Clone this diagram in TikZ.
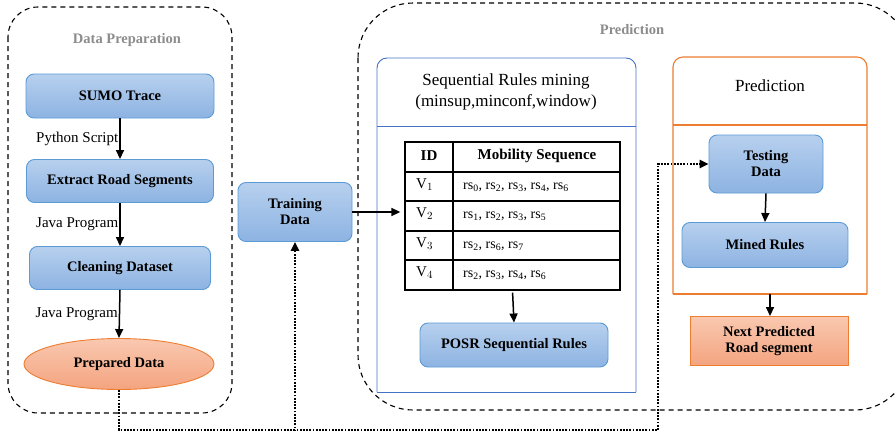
\documentclass[tikz,border=0pt]{standalone}
\usepackage{fontspec}
\setmainfont{Liberation Serif}
\usetikzlibrary{arrows.meta,shapes.geometric}

\definecolor{bluetop}{HTML}{B7D0EE}
\definecolor{bluebot}{HTML}{8DB3E2}
\definecolor{blueline}{HTML}{5B9BD5}
\definecolor{seqblue}{HTML}{4472C4}
\definecolor{orangetop}{HTML}{F9C8B0}
\definecolor{orangebot}{HTML}{F4A47F}
\definecolor{orangeline}{HTML}{ED7D31}
\definecolor{titlegray}{HTML}{8C8C8C}

\begin{document}
\begin{tikzpicture}[x=1pt,y=-1pt,
        bluebox/.style = {draw=blueline, line width=0.9pt,
            rounded corners=8pt,
            top color=bluetop, bottom color=bluebot,
            align=center,
            font=\fontsize{14.5}{16}\selectfont\bfseries},
        orangebox/.style = {draw=orangeline, line width=0.9pt,
            top color=orangetop, bottom color=orangebot,
            align=center,
            font=\fontsize{14.5}{16}\selectfont\bfseries},
        grouptitle/.style = {text=titlegray,
            font=\fontsize{14.5}{16}\selectfont\bfseries},
        steplabel/.style = {left, inner sep=1pt,
            font=\fontsize{15}{17}\selectfont},
        cell/.style = {inner sep=0pt, anchor=west,
            font=\fontsize{14}{16}\selectfont},
        flow/.style = {line width=1.5pt,
            -{Triangle[length=9pt,width=8pt]}},
        dotline/.style = {line width=2.2pt,
            dash pattern=on 1.8pt off 1.4pt,
            -{Triangle[length=9pt,width=8pt]}},
        group/.style = {line width=1.1pt,
            dash pattern=on 5pt off 4pt}]

    \useasboundingbox (0,0) rectangle (895,434);

    % Data preparation group
    \draw[group, rounded corners=30pt] (8,7) rectangle (232,413);
    \node[grouptitle] (prepTitle) at (127,40) {Data Preparation};

    \node[bluebox, minimum width=188pt, minimum height=44pt] (sumo) at (120,96) {SUMO Trace};
    \node[bluebox, minimum width=187pt, minimum height=43pt] (extract) at (120,181) {Extract Road Segments};
    \node[bluebox, minimum width=181pt, minimum height=43pt] (clean) at (120,268) {Cleaning Dataset};
    \node[orangebox, ellipse, minimum width=190pt, minimum height=51pt] (prep) at (119,364) {Prepared Data};

    \draw[flow] (sumo.south) -- (extract.north)
        node[steplabel, midway] (pyLbl) {Python Script};
    \draw[flow] (extract.south) -- (clean.north)
        node[steplabel, midway] (javaLblA) {Java Program};
    \draw[flow] (clean.south) -- (prep.north)
        node[steplabel, midway] (javaLblB) {Java Program};

    % Training data
    \node[bluebox, minimum width=114pt, minimum height=59pt] (train) at (295,212) {Training\\Data};

    % Prediction group
    \draw[group, rounded corners=55pt] (358,3) rectangle (910,410);
    \node[grouptitle] (predTitle) at (632,30) {Prediction};

    % Sequential rules mining box
    \draw[seqblue, line width=0.9pt, rounded corners=10pt]
        (377,392) -- (377,58) -- (636,58) -- (636,392);
    \draw[seqblue, line width=0.9pt] (377,392) -- (636,392);
    \draw[seqblue, line width=0.9pt] (377,126) -- (636,126);
    \node[align=center, font=\fontsize{17}{21}\selectfont] (seqTitle) at (506,92)
        {Sequential Rules mining\\(minsup,minconf,window)};

    % Table
    \node[draw, line width=1.3pt, minimum width=215pt, minimum height=148pt] (tab) at (512.5,216) {};
    \draw[line width=1.3pt] (453,142) -- (453,290);
    \draw[line width=1.3pt] (405,172) -- (620,172);
    \draw[line width=1.3pt] (405,201) -- (620,201);
    \draw[line width=1.3pt] (405,231) -- (620,231);
    \draw[line width=1.3pt] (405,260) -- (620,260);

    \node[cell, anchor=center, font=\fontsize{15}{17}\selectfont\bfseries] (idHead) at (429,156) {ID};
    \node[cell, anchor=center, font=\fontsize{15}{17}\selectfont\bfseries] (seqHead) at (537,156) {Mobility Sequence};
    \node[cell, font=\fontsize{15}{17}\selectfont] (vA) at (416,185) {V$_{1}$};
    \node[cell, font=\fontsize{15}{17}\selectfont] (vB) at (416,214) {V$_{2}$};
    \node[cell, font=\fontsize{15}{17}\selectfont] (vC) at (416,244) {V$_{3}$};
    \node[cell, font=\fontsize{15}{17}\selectfont] (vD) at (416,273) {V$_{4}$};
    \node[cell] (seqA) at (463,187) {rs\textsubscript{0}, rs\textsubscript{2}, rs\textsubscript{3}, rs\textsubscript{4}, rs\textsubscript{6}};
    \node[cell] (seqB) at (463,216) {rs\textsubscript{1}, rs\textsubscript{2}, rs\textsubscript{3}, rs\textsubscript{5}};
    \node[cell] (seqC) at (463,246) {rs\textsubscript{2}, rs\textsubscript{6}, rs\textsubscript{7}};
    \node[cell] (seqD) at (463,275) {rs\textsubscript{2}, rs\textsubscript{3}, rs\textsubscript{4}, rs\textsubscript{6}};

    \node[bluebox, minimum width=188pt, minimum height=44pt] (posr) at (514,345) {POSR Sequential Rules};

    \draw[flow] (train.east) -- (train.east -| tab.west) [shorten >=4pt];
    \draw[flow, shorten <=2pt] (tab.south) -- (posr.north);

    % Prediction box
    \draw[orangeline, line width=1.1pt, rounded corners=10pt]
        (673,294) -- (673,57) -- (867,57) -- (867,294);
    \draw[orangeline, line width=1.1pt] (673,294) -- (867,294);
    \draw[orangeline, line width=2.2pt] (673,125) -- (867,125);
    \node[font=\fontsize{17}{20}\selectfont] (predHead) at (770,86) {Prediction};
    \coordinate (predBottom) at (770,294);

    \node[bluebox, minimum width=114pt, minimum height=58pt] (test) at (766,164) {Testing\\Data};
    \node[bluebox, minimum width=166pt, minimum height=45pt] (mined) at (765,245) {Mined Rules};
    \node[orangebox, minimum width=158pt, minimum height=49pt] (next) at (769,341) {Next Predicted\\Road segment};

    \draw[flow] (test.south) -- (mined.north);
    \draw[flow] (predBottom) -- (next.north -| predBottom);

    % Dotted data links
    \coordinate (turn) at (658,430);
    \draw[dotline] (prep.south) |- (train.south |- turn) -- (train.south);
    \draw[dotline] (prep.south) |- (turn) |- (test.west);

\end{tikzpicture}
\end{document}
